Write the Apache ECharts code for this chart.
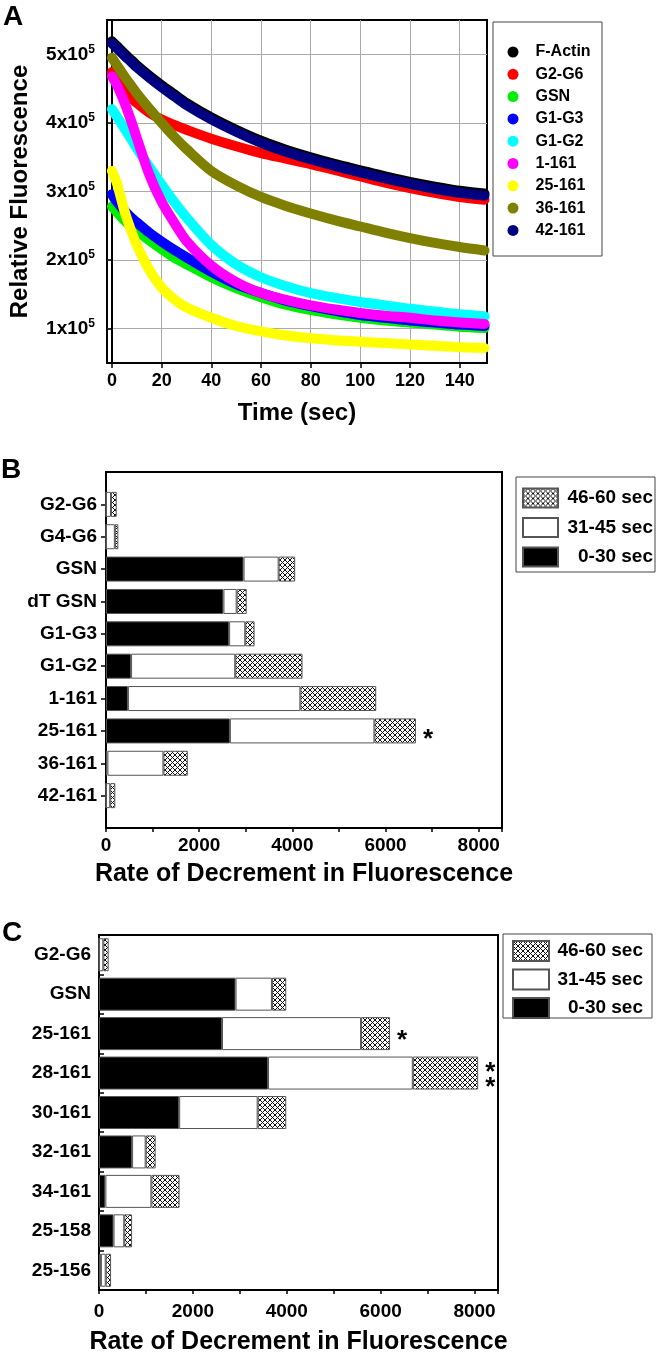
<!DOCTYPE html>
<html>
<head>
<meta charset="utf-8">
<script src="https://cdn.jsdelivr.net/npm/echarts@6/dist/echarts.min.js"></script>
<style>
html,body{margin:0;padding:0;background:#fff;}
#c{width:667px;height:1356px;}
</style>
</head>
<body>
<div id="c"></div>
<script>
// ---------------- Panel A data ----------------
const timeSec = [0, 2, 5, 8, 10, 15, 20, 25, 30, 40, 50, 60, 70, 80, 90, 100, 110, 120, 130, 140, 150];
const fActin  = [519000,512000,501000,491000,484000,469000,455000,442000,429000,408000,390000,374000,361000,350000,340000,331000,322000,314000,307000,301000,297000];
const g2g6    = [474000,462000,448000,436000,429000,415000,405000,397000,390000,377000,366000,356000,348000,340000,331000,322000,313000,305000,298000,292000,288000];
const gsn     = [278000,270000,258000,248000,243000,229000,216000,204000,194000,175000,159000,146000,135000,127000,121000,116000,112000,109000,106000,103000,101000];
const g1g3    = [296000,285000,272000,261000,255000,240000,227000,215000,204000,183000,165000,152000,141000,133000,126000,120000,116000,112000,109000,106000,104000];
const g1g2    = [420000,409000,392000,375000,363000,336000,310000,285000,262000,222000,194000,175000,162000,152000,145000,139000,134000,129000,125000,121000,118000];
const m1_161  = [468000,455000,430000,400000,378000,325000,285000,255000,228000,192000,168000,152000,142000,134000,128000,123000,119000,116000,112000,109000,107000];
const m25_161 = [330000,312000,272000,240000,222000,186000,160000,143000,131000,116000,104000,96000,90000,86000,83000,81000,79000,77000,75000,73000,72000];
const m36_161 = [495000,484000,468000,453000,443000,421000,400000,380000,362000,330000,309000,292000,279000,268000,258000,249000,240000,232000,225000,219000,214000];
const m42_161 = [516000,509000,498000,488000,481000,466000,452000,439000,426000,405000,387000,371000,358000,347000,337000,328000,319000,311000,304000,298000,294000];
const namesA  = ['F-Actin','G2-G6','GSN','G1-G3','G1-G2','1-161','25-161','36-161','42-161'];
const colorsA = ['#000000','#ff0000','#00ee00','#0000ff','#00ffff','#ff00ff','#ffff00','#808000','#000080'];
const xTicksA = [0, 20, 40, 60, 80, 100, 120, 140];
const yTicksA = [100000, 200000, 300000, 400000, 500000];

// ---------------- Panel B data ----------------
const catB     = ['G2-G6','G4-G6','GSN','dT GSN','G1-G3','G1-G2','1-161','25-161','36-161','42-161'];
const b0_30    = [0, 0, 2953, 2521, 2643, 538, 470, 2659, 30, 0];
const b31_45   = [107, 190, 753, 284, 346, 2236, 3702, 3103, 1203, 90];
const b46_60   = [123, 75, 355, 215, 200, 1444, 1628, 891, 523, 110];
const starsB   = ['', '', '', '', '', '', '', '*', '', ''];

// ---------------- Panel C data ----------------
const catC     = ['G2-G6','GSN','25-161','28-161','30-161','32-161','34-161','25-158','25-156'];
const c0_30    = [0, 2909, 2620, 3600, 1708, 705, 136, 310, 40];
const c31_45   = [92, 775, 2963, 3085, 1672, 289, 980, 228, 103];
const c46_60   = [114, 305, 617, 1392, 609, 213, 600, 167, 114];
const starsC   = ['', '', '*', '*\n*', '', '', '', '', ''];

const rateTicks = [0, 2000, 4000, 6000, 8000];
const legendNamesBC = ['46-60 sec', '31-45 sec', '0-30 sec'];

// ---------------- helpers ----------------
const FONT = '"Liberation Sans", Arial, Helvetica, sans-serif';
function makeHatch() {
  const s = 10, p = 5;
  const c = document.createElement('canvas');
  c.width = s; c.height = s;
  const g = c.getContext('2d');
  g.fillStyle = '#ffffff'; g.fillRect(0, 0, s, s);
  g.strokeStyle = '#111111'; g.lineWidth = 1;
  g.beginPath();
  for (let k = -3; k <= 3; k++) { g.moveTo(-2, -2 + k * p); g.lineTo(s + 2, s + 2 + k * p); }
  for (let k = 0; k <= 5; k++) { g.moveTo(-2, k * p + 2); g.lineTo(k * p + 2, -2); }
  g.stroke();
  return c;
}
const hatch = { image: makeHatch(), repeat: 'repeat' };

const chart = echarts.init(document.getElementById('c'), null, { renderer: 'canvas', width: 667, height: 1356 });

const seriesA = [fActin, g2g6, gsn, g1g3, g1g2, m1_161, m25_161, m36_161, m42_161].map((vals, i) => ({
  type: 'line', name: namesA[i], xAxisIndex: 0, yAxisIndex: 0,
  data: timeSec.map((t, j) => [t, vals[j]]),
  symbol: 'none', showSymbol: false, smooth: 0.3,
  lineStyle: { color: colorsA[i], width: 10, cap: 'round', join: 'round' },
  itemStyle: { color: colorsA[i] },
  z: 2 + i * 0.01
}));

function pad(arr, both) { return both ? ['-'].concat(arr, ['-']) : arr.slice(); }

function stackSeries(axisIdx, parts, stars, padEnds, barW, stackId, starOffset) {
  const styles = [
    { name: '0-30 sec', color: '#000000' },
    { name: '31-45 sec', color: '#ffffff' },
    { name: '46-60 sec', color: hatch }
  ];
  return parts.map((vals, k) => {
    const s = {
      type: 'bar', name: styles[k].name, stack: stackId,
      xAxisIndex: axisIdx, yAxisIndex: axisIdx,
      barWidth: barW,
      data: pad(vals, padEnds),
      itemStyle: { color: styles[k].color, borderColor: '#555', borderWidth: 1 }
    };
    if (k === 2) {
      s.label = {
        show: true, position: 'right', distance: 7,
        formatter: p => stars[padEnds ? p.dataIndex - 1 : p.dataIndex] || '',
        fontSize: 26, fontWeight: 'bold', color: '#000', fontFamily: FONT,
        lineHeight: 15, offset: [0, starOffset]
      };
    }
    return s;
  });
}

const catAxisB = [''].concat(catB, ['']);

const boldLabel = (size) => ({ fontSize: size, fontWeight: 'bold', color: '#000', fontFamily: FONT });

const option = {
  animation: false,
  backgroundColor: '#ffffff',
  grid: [
    { left: 105, top: 20, width: 382, height: 343, show: true, borderColor: '#000', borderWidth: 2, backgroundColor: 'transparent' },
    { left: 106, top: 472, width: 396, height: 356, show: true, borderColor: '#000', borderWidth: 2, backgroundColor: 'transparent' },
    { left: 99, top: 935, width: 399, height: 356, show: true, borderColor: '#000', borderWidth: 2, backgroundColor: 'transparent' }
  ],
  xAxis: [
    {
      type: 'value', gridIndex: 0, min: -2, max: 151,
      axisLine: { show: true, lineStyle: { color: '#000', width: 2 } },
      axisTick: { show: true, customValues: xTicksA, length: 5, lineStyle: { color: '#000', width: 1.5 } },
      axisLabel: Object.assign({ customValues: xTicksA, margin: 9 }, boldLabel(18)),
      splitLine: { show: true, lineStyle: { color: '#aaaaaa', width: 1 } },
      name: 'Time (sec)', nameLocation: 'middle', nameGap: 38,
      nameTextStyle: boldLabel(24)
    },
    {
      type: 'value', gridIndex: 1, min: 0, max: 8500, interval: 1000,
      axisLine: { show: true, lineStyle: { color: '#000', width: 2 } },
      axisTick: { show: true, length: 4, lineStyle: { color: '#000', width: 1.5 } },
      axisLabel: Object.assign({ margin: 8, formatter: v => rateTicks.indexOf(v) >= 0 ? String(v) : '' }, boldLabel(19)),
      splitLine: { show: false },
      name: 'Rate of Decrement in Fluorescence', nameLocation: 'middle', nameGap: 34,
      nameTextStyle: boldLabel(25)
    },
    {
      type: 'value', gridIndex: 2, min: 0, max: 8500, interval: 1000,
      axisLine: { show: true, lineStyle: { color: '#000', width: 2 } },
      axisTick: { show: true, length: 4, lineStyle: { color: '#000', width: 1.5 } },
      axisLabel: Object.assign({ margin: 12, formatter: v => rateTicks.indexOf(v) >= 0 ? String(v) : '' }, boldLabel(19)),
      splitLine: { show: false },
      name: 'Rate of Decrement in Fluorescence', nameLocation: 'middle', nameGap: 40,
      nameTextStyle: boldLabel(25)
    }
  ],
  yAxis: [
    {
      type: 'value', gridIndex: 0, min: 50000, max: 550000,
      axisLine: { show: true, lineStyle: { color: '#000', width: 2 } },
      axisTick: { show: true, customValues: yTicksA, length: 5, lineStyle: { color: '#000', width: 1.5 } },
      axisLabel: {
        customValues: yTicksA, margin: 12,
        formatter: v => '{a|' + Math.round(v / 100000) + 'x10}{s|5}',
        rich: {
          a: { fontSize: 19, fontWeight: 'bold', color: '#000', fontFamily: FONT, lineHeight: 22 },
          s: { fontSize: 12, fontWeight: 'bold', color: '#000', fontFamily: FONT, lineHeight: 12, verticalAlign: 'top' }
        }
      },
      splitLine: { show: true, lineStyle: { color: '#aaaaaa', width: 1 } },
      name: 'Relative Fluorescence', nameLocation: 'middle', nameGap: 75,
      nameTextStyle: boldLabel(24)
    },
    {
      type: 'category', gridIndex: 1, data: catAxisB, inverse: true, boundaryGap: false,
      axisLine: { show: true, lineStyle: { color: '#000', width: 2 } },
      axisTick: { show: true, length: 5, interval: (i, v) => v !== '', lineStyle: { color: '#000', width: 1.5 } },
      axisLabel: Object.assign({ margin: 9, interval: 0 }, boldLabel(19)),
      splitLine: { show: false }
    },
    {
      type: 'category', gridIndex: 2, data: catC, inverse: true, boundaryGap: true,
      axisLine: { show: true, lineStyle: { color: '#000', width: 2 } },
      axisTick: { show: true, inside: true, length: 5, interval: 0, lineStyle: { color: '#000', width: 1.5 } },
      axisLabel: Object.assign({ margin: 8, interval: 0 }, boldLabel(19)),
      splitLine: { show: false }
    }
  ],
  legend: [
    {
      data: namesA, orient: 'vertical', left: 507.5, top: 44, padding: 0,
      icon: 'circle', itemWidth: 11, itemHeight: 11, itemGap: 6.3,
      selectedMode: false,
      textStyle: { fontSize: 16, fontWeight: 'bold', color: '#000', fontFamily: FONT, lineHeight: 16, padding: [0, 0, 0, 12] }
    },
    {
      data: legendNamesBC, orient: 'vertical', left: 522, top: 487.5, padding: 0,
      icon: 'rect', itemWidth: 35, itemHeight: 19, itemGap: 8.5, selectedMode: false,
      formatter: n => '{r|' + n + '}',
      textStyle: { rich: { r: { width: 90, align: 'right', fontSize: 19, fontWeight: 'bold', color: '#000', fontFamily: FONT, lineHeight: 19 } } }
    },
    {
      data: legendNamesBC, orient: 'vertical', left: 512, top: 940, padding: 0,
      icon: 'rect', itemWidth: 36, itemHeight: 20, itemGap: 6.5, selectedMode: false,
      formatter: n => '{r|' + n + '}',
      textStyle: { rich: { r: { width: 89, align: 'right', fontSize: 19, fontWeight: 'bold', color: '#000', fontFamily: FONT, lineHeight: 20 } } }
    }
  ],
  graphic: [
    { type: 'text', left: 3, top: 3, style: { text: 'A', font: 'bold 28px ' + FONT, fill: '#000' } },
    { type: 'text', left: 1, top: 456, style: { text: 'B', font: 'bold 28px ' + FONT, fill: '#000' } },
    { type: 'text', left: 2, top: 919, style: { text: 'C', font: 'bold 28px ' + FONT, fill: '#000' } },
    { type: 'rect', shape: { x: 493, y: 22, width: 109, height: 234 }, style: { fill: 'none', stroke: '#444', lineWidth: 1 }, z: 10 },
    { type: 'rect', shape: { x: 516, y: 477, width: 139, height: 95 }, style: { fill: 'none', stroke: '#444', lineWidth: 1 }, z: 10 },
    { type: 'rect', shape: { x: 503, y: 934, width: 149, height: 84 }, style: { fill: 'none', stroke: '#444', lineWidth: 1 }, z: 10 }
  ],
  series: seriesA
    .concat(stackSeries(1, [b0_30, b31_45, b46_60], starsB, true, 25, 'B', 9))
    .concat(stackSeries(2, [c0_30, c31_45, c46_60], starsC, false, 33, 'C', 7))
};
chart.setOption(option);
</script>
</body>
</html>
